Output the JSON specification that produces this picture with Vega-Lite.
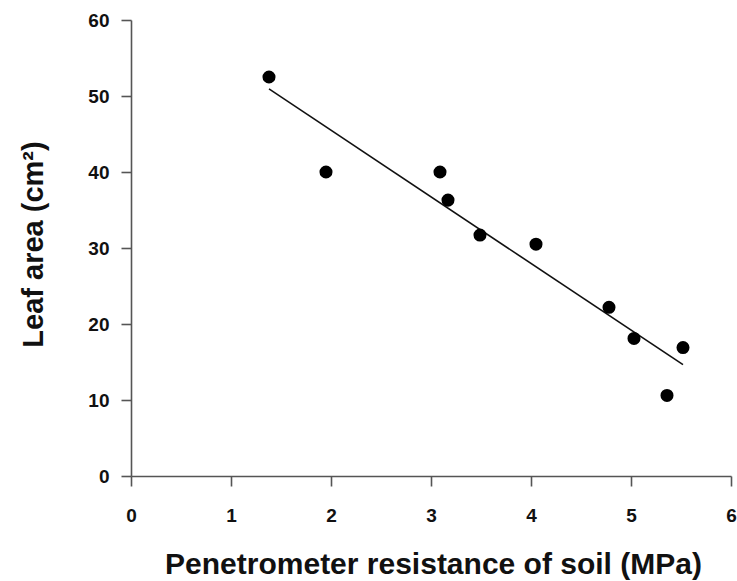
{
  "$schema": "https://vega.github.io/schema/vega-lite/v6.json",
  "width": 600,
  "height": 456,
  "autosize": {"type": "none"},
  "padding": {"left": 131, "top": 20, "right": 6, "bottom": 105},
  "background": "white",
  "config": {
    "view": {"stroke": null},
    "font": "Liberation Sans",
    "axis": {
      "grid": false,
      "domainColor": "#555555",
      "domainWidth": 1.6,
      "tickColor": "#555555",
      "tickWidth": 1.6,
      "tickSize": 10,
      "labelFont": "Liberation Sans",
      "labelFontWeight": "bold",
      "labelFontSize": 19,
      "labelColor": "#111111",
      "titleFont": "Liberation Sans",
      "titleFontWeight": "bold",
      "titleFontSize": 29,
      "titleColor": "#111111"
    }
  },
  "data": {
    "values": [
      {"resistance": 1.38, "leaf_area": 52.5},
      {"resistance": 1.95, "leaf_area": 40.0},
      {"resistance": 3.09, "leaf_area": 40.0},
      {"resistance": 3.17, "leaf_area": 36.3},
      {"resistance": 3.49, "leaf_area": 31.7},
      {"resistance": 4.05, "leaf_area": 30.5},
      {"resistance": 4.78, "leaf_area": 22.2},
      {"resistance": 5.03, "leaf_area": 18.1},
      {"resistance": 5.36, "leaf_area": 10.6},
      {"resistance": 5.52, "leaf_area": 16.9}
    ]
  },
  "encoding": {
    "x": {
      "field": "resistance",
      "type": "quantitative",
      "scale": {"domain": [0, 6], "nice": false, "zero": false},
      "axis": {
        "title": "Penetrometer resistance of soil (MPa)",
        "values": [0, 1, 2, 3, 4, 5, 6],
        "labelBaseline": "alphabetic",
        "labelPadding": 35,
        "labelFlush": false,
        "titleBaseline": "alphabetic",
        "titleFontSize": 30,
        "titleY": 97,
        "titleX": 302
      }
    },
    "y": {
      "field": "leaf_area",
      "type": "quantitative",
      "scale": {"domain": [0, 60], "nice": false},
      "axis": {
        "title": "Leaf area (cm²)",
        "values": [0, 10, 20, 30, 40, 50, 60],
        "labelPadding": 12,
        "labelBaseline": "middle",
        "labelFlush": false,
        "titleAngle": -90,
        "titleBaseline": "alphabetic",
        "titleX": -89,
        "titleY": 224
      }
    }
  },
  "layer": [
    {
      "transform": [{"regression": "leaf_area", "on": "resistance"}],
      "mark": {"type": "line", "color": "#111111", "strokeWidth": 1.6}
    },
    {
      "mark": {"type": "circle", "color": "#000000", "opacity": 1, "size": 170}
    }
  ]
}
